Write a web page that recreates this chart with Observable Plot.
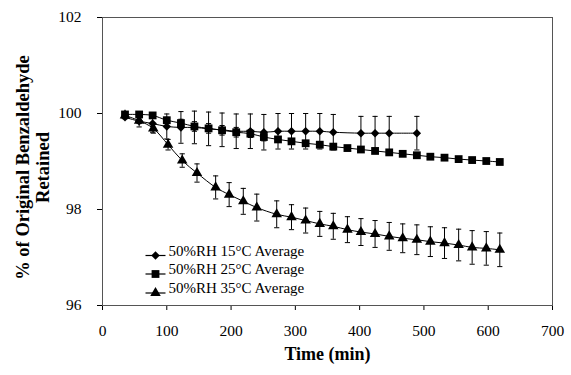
<!DOCTYPE html>
<html>
<head>
<meta charset="utf-8">
<script src="https://cdn.jsdelivr.net/npm/d3@7"></script>
<script src="https://cdn.jsdelivr.net/npm/@observablehq/plot@0.6"></script>
<style>
  html, body { margin: 0; padding: 0; background: #fff; }
  #chart { width: 571px; height: 375px; }
</style>
</head>
<body>
<div id="chart"></div>
<script>
const seriesNames = ["50%RH 15\u00B0C Average", "50%RH 25\u00B0C Average", "50%RH 35\u00B0C Average"];

const times15 = [35, 57, 78, 100, 122, 143, 165, 186, 208, 230, 251, 273, 294, 316, 338, 359, 402, 424, 446, 489];
const mean15  = [99.92, 99.84, 99.79, 99.73, 99.71, 99.71, 99.68, 99.66, 99.63, 99.63, 99.61, 99.63, 99.63, 99.63, 99.63, 99.61, 99.59, 99.59, 99.59, 99.59];
const err15   = [0.03, 0.12, 0.18, 0.26, 0.33, 0.34, 0.35, 0.35, 0.36, 0.36, 0.37, 0.37, 0.37, 0.37, 0.37, 0.37, 0.35, 0.35, 0.35, 0.35];

const times25 = [35, 57, 78, 100, 122, 143, 165, 186, 208, 230, 251, 273, 294, 316, 338, 359, 381, 402, 424, 446, 467, 489, 510, 532, 554, 575, 597, 618];
const mean25  = [99.98, 99.98, 99.96, 99.86, 99.80, 99.73, 99.69, 99.65, 99.61, 99.58, 99.51, 99.46, 99.42, 99.38, 99.35, 99.31, 99.28, 99.25, 99.22, 99.19, 99.16, 99.13, 99.10, 99.08, 99.05, 99.03, 99.01, 98.99];
const err25   = [0.02, 0.03, 0.04, 0.06, 0.08, 0.10, 0.10, 0.10, 0.10, 0.08, 0.08, 0.06, 0.05, 0.05, 0.04, 0.04, 0.04, 0.03, 0.03, 0.03, 0.03, 0.03, 0.03, 0.03, 0.03, 0.03, 0.03, 0.03];

const times35 = [35, 57, 79, 102, 124, 147, 176, 197, 219, 240, 271, 294, 316, 338, 359, 381, 402, 424, 446, 467, 489, 510, 532, 554, 575, 597, 618];
const mean35  = [99.96, 99.85, 99.69, 99.35, 99.02, 98.76, 98.46, 98.31, 98.17, 98.04, 97.90, 97.84, 97.77, 97.70, 97.65, 97.58, 97.53, 97.49, 97.44, 97.40, 97.37, 97.33, 97.30, 97.26, 97.21, 97.19, 97.16];
const err35   = [0.03, 0.06, 0.10, 0.11, 0.14, 0.19, 0.24, 0.25, 0.27, 0.28, 0.28, 0.26, 0.26, 0.26, 0.27, 0.27, 0.28, 0.28, 0.29, 0.30, 0.31, 0.31, 0.32, 0.33, 0.35, 0.35, 0.35];

const xTicks = [0, 100, 200, 300, 400, 500, 600, 700];
const yTicks = [96, 98, 100, 102];
const xTitle = "Time (min)";
const yTitle1 = "% of Original Benzaldehyde";
const yTitle2 = "Retained";

function build(times, means, errs, s) {
  return times.map((t, i) => ({series: s, t, v: means[i], e: errs[i]}));
}
const d15 = build(times15, mean15, err15, seriesNames[0]);
const d25 = build(times25, mean25, err25, seriesNames[1]);
const d35 = build(times35, mean35, err35, seriesNames[2]);
const all = [...d15, ...d25, ...d35];

// horizontal line symbol (for error-bar caps and legend lines); width = 2r
const hline = {
  draw(context, size) {
    const r = Math.sqrt(size / Math.PI);
    context.moveTo(-r, 0);
    context.lineTo(r, 0);
  }
};

const font = "'Liberation Serif', 'Times New Roman', serif";
const markers = [
  {data: d15, symbol: "diamond2", r: 3.8},
  {data: d25, symbol: "square", r: 4.4},
  {data: d35, symbol: "triangle", r: 3.9}
];

const legendDy = [-50, -31.5, -12.5];

const marks = [
  Plot.frame({stroke: "#555"}),
  ...markers.map(m => Plot.line(m.data, {x: "t", y: "v", stroke: "black", strokeWidth: 1, curve: "catmull-rom"})),
  Plot.ruleX(all, {x: "t", y1: d => d.v - d.e, y2: d => d.v + d.e, stroke: "black", strokeWidth: 1}),
  Plot.dot(all, {x: "t", y: d => d.v + d.e, symbol: hline, r: 2.6, stroke: "black", strokeWidth: 1, fill: "none"}),
  Plot.dot(all, {x: "t", y: d => d.v - d.e, symbol: hline, r: 2.6, stroke: "black", strokeWidth: 1, fill: "none"}),
  ...markers.map(m => Plot.dot(m.data, {x: "t", y: "v", symbol: m.symbol, r: m.r, fill: "black", stroke: "none"})),
  // legend
  ...seriesNames.map((s, i) => Plot.dot([s], {frameAnchor: "bottom-left", dx: 53, dy: legendDy[i], symbol: hline, r: 10, stroke: "black", strokeWidth: 1.2})),
  ...seriesNames.map((s, i) => Plot.dot([s], {frameAnchor: "bottom-left", dx: 53, dy: legendDy[i], symbol: markers[i].symbol, r: markers[i].r, fill: "black", stroke: "none"})),
  ...seriesNames.map((s, i) => Plot.text([s], {text: d => d, frameAnchor: "bottom-left", dx: 66, dy: legendDy[i], textAnchor: "start", fontSize: 15, fontFamily: font, fill: "black"})),
  // axis titles
  Plot.text([xTitle], {text: d => d, frameAnchor: "bottom", dy: 54, textAnchor: "middle", fontSize: 18, fontWeight: "bold", fontFamily: font, fill: "black"}),
  Plot.text([yTitle1], {text: d => d, frameAnchor: "left", dx: -79, dy: 6, rotate: -90, textAnchor: "middle", fontSize: 18.5, fontWeight: "bold", fontFamily: font, fill: "black"}),
  Plot.text([yTitle2], {text: d => d, frameAnchor: "left", dx: -59, dy: 6, rotate: -90, textAnchor: "middle", fontSize: 18.5, fontWeight: "bold", fontFamily: font, fill: "black"})
];

const chart = Plot.plot({
  width: 571,
  height: 375,
  marginLeft: 102,
  marginRight: 19,
  marginTop: 17,
  marginBottom: 70,
  style: {fontFamily: font, fontSize: "15.5px", background: "white", color: "black", overflow: "visible"},
  x: {domain: [0, 700], ticks: xTicks, tickSize: 5, tickPadding: 14, label: null, tickFormat: d => String(d)},
  y: {domain: [96, 102], ticks: yTicks, tickSize: 5, tickPadding: 16, label: null, tickFormat: d => String(d)},
  marks
});
document.getElementById("chart").appendChild(chart);
</script>
</body>
</html>
